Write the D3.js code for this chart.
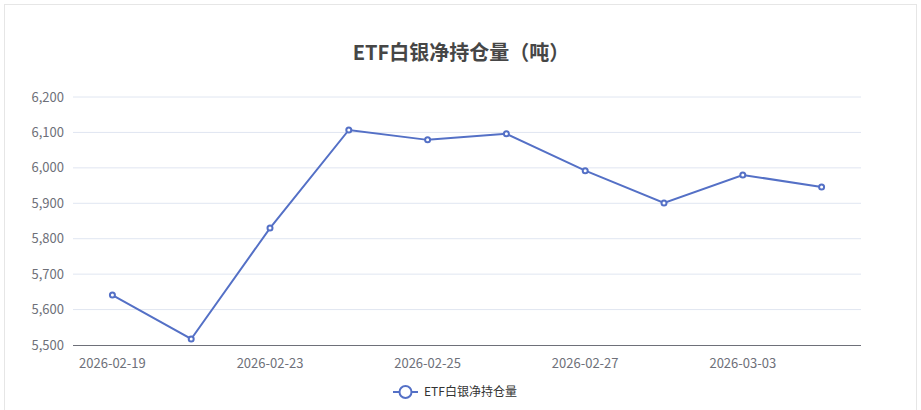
<!DOCTYPE html><html><head><meta charset="utf-8"><script src="https://cdn.jsdelivr.net/npm/d3@7"></script>
<style>body{margin:0;background:#fff}</style></head><body><svg id="c" width="921" height="410"></svg>
<script>
const dates=["2026-02-19","2026-02-20","2026-02-23","2026-02-24","2026-02-25","2026-02-26","2026-02-27","2026-03-02","2026-03-03","2026-03-04"];
const values=[15641,15517,15830,16107,16079,16096,15992,15901,15980,15946];
const yTicks=[15500,15600,15700,15800,15900,16000,16100,16200];
const title="ETF白银净持仓量（吨）";
const font="'Noto Sans CJK SC','Noto Sans',sans-serif";
const svg=d3.select("#c");
svg.append("rect").attr("x",4.5).attr("y",4.5).attr("width",912).attr("height",420).attr("fill","none").attr("stroke","#e6e6e6");
const x=d3.scaleBand().domain(dates).range([73,861]);
const y=d3.scaleLinear().domain([15500,16200]).range([345,97]);
svg.append("text").attr("x",461).attr("y",60).attr("text-anchor","middle").attr("font-family",font).attr("font-weight","bold").attr("font-size",20).attr("fill","#464646").text(title);
svg.append("defs").append("clipPath").attr("id","yc").append("rect").attr("x",31).attr("y",0).attr("width",60).attr("height",410);
const g=svg.append("g");
yTicks.forEach(t=>{
 if(t>15500) g.append("line").attr("x1",73).attr("x2",861).attr("y1",y(t)).attr("y2",y(t)).attr("stroke","#e0e6f1");
 svg.append("text").attr("clip-path","url(#yc)").attr("x",64).attr("y",y(t)).attr("dy","0.35em").attr("text-anchor","end").attr("font-family",font).attr("font-size",13).attr("fill","#6e7079").text(d3.format(",")(t));
});
svg.append("line").attr("x1",73).attr("x2",861).attr("y1",345.5).attr("y2",345.5).attr("stroke","#6e7079");
dates.forEach((d,i)=>{ if(i%2==0) svg.append("text").attr("x",x(d)+x.bandwidth()/2).attr("y",363).attr("dy","0.35em").attr("text-anchor","middle").attr("font-family",font).attr("font-size",13).attr("fill","#6e7079").text(d);});
const cx=d=>x(d)+x.bandwidth()/2;
svg.append("path").attr("d",d3.line().x((v,i)=>cx(dates[i])).y(v=>y(v))(values)).attr("fill","none").attr("stroke","#5470c6").attr("stroke-width",2);
values.forEach((v,i)=>svg.append("circle").attr("cx",cx(dates[i])).attr("cy",y(v)).attr("r",2.5).attr("fill","#fff").attr("stroke","#5470c6").attr("stroke-width",2));
svg.append("line").attr("x1",393).attr("x2",418).attr("y1",392).attr("y2",392).attr("stroke","#5470c6").attr("stroke-width",2);
svg.append("circle").attr("cx",405.5).attr("cy",392).attr("r",6).attr("fill","#fff").attr("stroke","#5470c6").attr("stroke-width",2);
svg.append("text").attr("x",424).attr("y",392).attr("dy","0.35em").attr("font-family",font).attr("font-size",12).attr("fill","#333").text("ETF白银净持仓量");
</script></body></html>
